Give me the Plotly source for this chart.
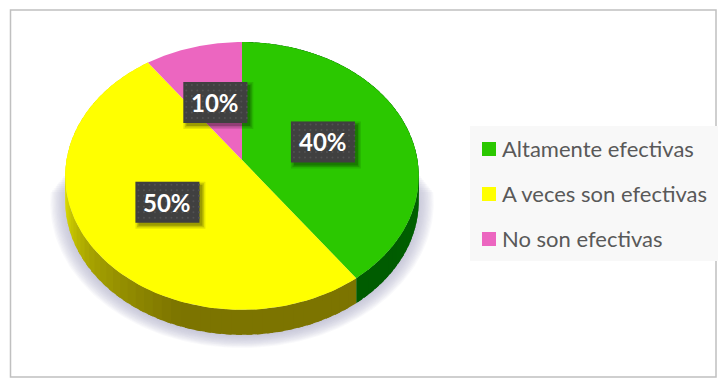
import numpy as np
import plotly.graph_objects as go

# Survey shares, clockwise from twelve o'clock
categories = ["Altamente efectivas", "A veces son efectivas", "No son efectivas"]
values = [40, 50, 10]
face_colors = ["#2bc800", "#ffff00", "#ec66c0"]

FONT = "Lato"
W, H = 720, 379

# Tilted disc: perspective projection of a unit circle around the pivot
PIVOT_X, PIVOT_Y = 242, 160
RX, RY, PERSP = 175.5, 132, 0.1194
DEPTH = 25


def project(theta, radius=1.0):
    """Map a clockwise-from-top angle (radians) on the disc to canvas pixels."""
    u = radius * np.sin(theta)
    v = -radius * np.cos(theta)
    d = 1 - PERSP * v
    return PIVOT_X + RX * u / d, PIVOT_Y + RY * v / d


def polygon(x, y, color, opacity=1.0):
    return go.Scatter(x=list(x), y=list(y), mode="lines", fill="toself",
                      fillcolor=color, line=dict(width=0), opacity=opacity,
                      hoverinfo="skip", showlegend=False)


def rect(cx, cy, w, h, color, opacity=1.0):
    xs = [cx - w / 2, cx + w / 2, cx + w / 2, cx - w / 2, cx - w / 2]
    ys = [cy - h / 2, cy - h / 2, cy + h / 2, cy + h / 2, cy - h / 2]
    return polygon(xs, ys, color, opacity)


fig = go.Figure()

# Soft floor shadow built from stacked translucent outlines
full = np.linspace(0, 2 * np.pi, 240)
rim_x, rim_y = project(full)
mid_x = rim_x.mean()
mid_y = rim_y.mean()
for i, grow in enumerate(np.linspace(1.085, 0.98, 16)):
    sx = mid_x + (rim_x - mid_x) * grow
    sy = mid_y + (rim_y - mid_y) * grow + DEPTH + 1
    sy = np.maximum(sy, 192 - i * 2)
    fig.add_trace(polygon(sx, sy, "rgb(176,176,205)", 0.08))

# Side wall, shaded in narrow angular bands that overlap slightly
fractions = np.cumsum([0] + values) / sum(values) * 2 * np.pi
wall_ramps = [
    [(0.45, (0, 104, 0)), (0.9, (0, 92, 0))],
    [(0.0, (124, 116, 0)), (0.3, (124, 116, 0)), (0.5, (168, 164, 0)), (0.65, (225, 225, 0)), (1.0, (235, 235, 0))],
]
for start, end, ramp in zip(fractions[:2], fractions[1:3], wall_ramps):
    edges = np.linspace(start, end, 61)
    for a0, a1 in zip(edges[:-1], edges[1:]):
        t = ((a0 + a1) / 2 - start) / (end - start)
        stops = [s[0] for s in ramp]
        rgb = [int(np.interp(t, stops, [s[1][k] for s in ramp])) for k in range(3)]
        arc = np.linspace(a0, min(a1 + 0.03, end), 6)
        ax, ay = project(arc)
        xs = np.concatenate([ax, ax[::-1]])
        ys = np.concatenate([ay, ay[::-1] + DEPTH])
        fig.add_trace(polygon(xs, ys, f"rgb({rgb[0]},{rgb[1]},{rgb[2]})"))

# Top face slices
for start, end, color in zip(fractions[:-1], fractions[1:], face_colors):
    arc = np.linspace(start, end, 120)
    ax, ay = project(arc)
    fig.add_trace(polygon(np.r_[PIVOT_X, ax, PIVOT_X], np.r_[PIVOT_Y, ay, PIVOT_Y], color))

# Percentage tags, centred halfway along each slice
BOX_W, BOX_H = 64, 41
mids = (fractions[:-1] + fractions[1:]) / 2
annotations = []
for value, mid in zip(values, mids):
    cx, cy = project(mid, 0.5)
    cx -= 1
    cy += 2
    for spread, alpha in [(9, 0.10), (6, 0.14), (3, 0.2)]:
        fig.add_trace(rect(cx + 3, cy + 3, BOX_W + spread - 3, BOX_H + spread - 3, "#000000", alpha))
    fig.add_trace(rect(cx, cy, BOX_W, BOX_H, "#404040"))
    gx, gy = np.meshgrid(np.arange(cx - BOX_W / 2 + 3, cx + BOX_W / 2, 5.5),
                         np.arange(cy - BOX_H / 2 + 3, cy + BOX_H / 2, 5.5))
    fig.add_trace(go.Scatter(x=gx.ravel(), y=gy.ravel(), mode="markers",
                             marker=dict(size=2, color="#525252", line=dict(width=0)),
                             hoverinfo="skip", showlegend=False))
    annotations.append(dict(x=cx, y=cy, xref="x", yref="y", text=f"<b>{value}%</b>",
                            showarrow=False, xanchor="center", yanchor="middle",
                            font=dict(family=FONT, size=24, color="#ffffff")))

# Key on the right
fig.add_trace(rect(594, 193.5, 248, 135, "#f8f8f8"))
key_rows = [149, 194, 239]
fig.add_trace(go.Scatter(x=[489] * 3, y=key_rows, mode="markers",
                         marker=dict(symbol="square", size=14, color=face_colors, line=dict(width=0)),
                         hoverinfo="skip", showlegend=False))
for name, row in zip(categories, key_rows):
    annotations.append(dict(x=500, y=row - 1, xref="x", yref="y", text=name, showarrow=False,
                            xanchor="left", yanchor="middle",
                            font=dict(family=FONT, size=22, color="#595959")))

fig.update_layout(
    width=W, height=H, margin=dict(l=0, r=0, t=0, b=0),
    paper_bgcolor="#ffffff", plot_bgcolor="#ffffff",
    xaxis=dict(range=[0, W], visible=False, fixedrange=True),
    yaxis=dict(range=[H, 0], visible=False, fixedrange=True),
    annotations=annotations, showlegend=False,
    shapes=[dict(type="rect", xref="x", yref="y", x0=10.5, y0=10, x1=716, y1=377,
                 line=dict(color="#c0c0c0", width=1.5), layer="below")],
)
fig.write_html("out.html", config={"displayModeBar": False})
